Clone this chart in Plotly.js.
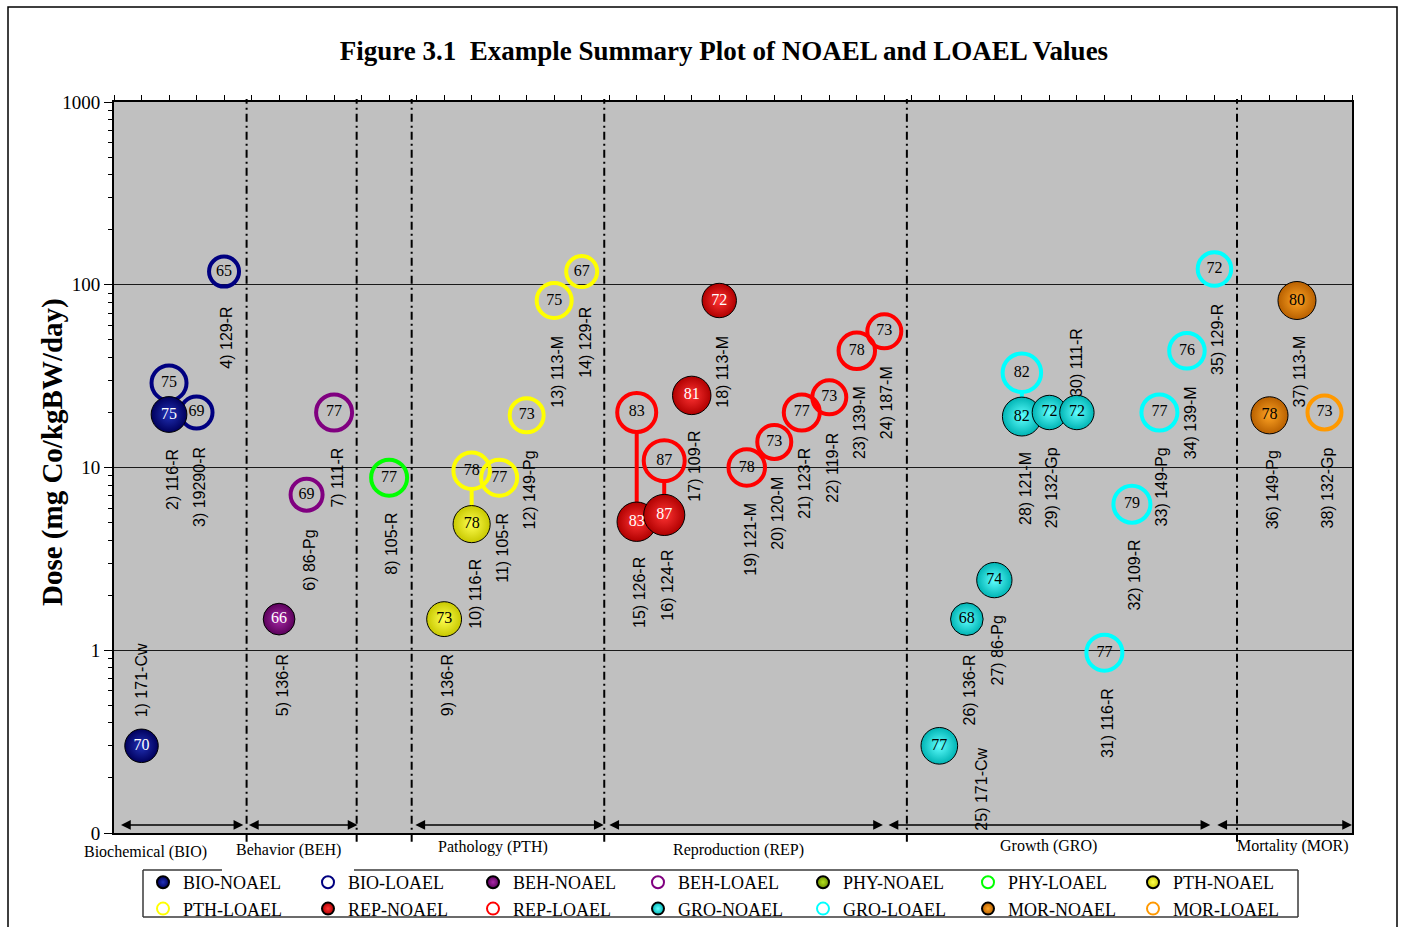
<!DOCTYPE html>
<html><head><meta charset="utf-8">
<script src="https://cdn.plot.ly/plotly-3.0.1.min.js"></script>
<style>body{margin:0;background:#fff}#chart{width:1403px;height:927px}</style>
</head><body><div id="chart"></div>
<script>
// ---------- data ----------
const studyLabels = ["171-Cw","116-R","19290-R","129-R","136-R","86-Pg","111-R","105-R","136-R","116-R","105-R","149-Pg","113-M","129-R","126-R","124-R","109-R","113-M","121-M","120-M","123-R","119-R","139-M","187-M","171-Cw","136-R","86-Pg","121-M","132-Gp","111-R","116-R","109-R","149-Pg","139-M","129-R","149-Pg","113-M","132-Gp"];
const studyGroups = ["BIO","BIO","BIO","BIO","BEH","BEH","BEH","PHY","PTH","PTH","PTH","PTH","PTH","PTH","REP","REP","REP","REP","REP","REP","REP","REP","REP","REP","GRO","GRO","GRO","GRO","GRO","GRO","GRO","GRO","GRO","GRO","GRO","MOR","MOR","MOR"];
const noaelDose  = [0.3,19.5,null,null,1.48,null,null,null,1.48,4.9,null,null,null,null,5.05,5.5,24.8,82,null,null,null,null,null,null,0.3,1.48,2.42,19,20,20,null,null,null,null,null,19.3,82,null];
const noaelScore = [70,75,null,null,66,null,null,null,73,78,null,null,null,null,83,87,81,72,null,null,null,null,null,null,77,68,74,82,72,72,null,null,null,null,null,78,80,null];
const loaelDose  = [null,29,20,118,null,7.1,20,8.8,null,9.6,8.8,19.3,82,118,20,10.9,null,null,10,13.8,20,24.2,43.5,55.6,null,null,null,33,null,null,0.97,6.3,20,43.5,122,null,null,20];
const loaelScore = [null,75,69,65,null,69,77,77,null,78,77,73,75,67,83,87,null,null,78,73,77,73,78,73,null,null,null,82,null,null,77,79,77,76,72,null,null,73];
const groupOrder  = ["BIO","BEH","PHY","PTH","REP","GRO","MOR"];
const groupTitles = ["Biochemical (BIO)","Behavior (BEH)","","Pathology (PTH)","Reproduction (REP)","Growth (GRO)","Mortality (MOR)"];
const yTickVals = [0.1,1,10,100,1000];
const yTickText = ["0","1","10","100","1000"];

// ---------- styles ----------
const sphere = { // edge, centre, text colour
  BIO:["#00005c","#2232b8","#ffffff"], BEH:["#5a005a","#a82aa8","#ffffff"], PHY:["#6b8f00","#b4e020","#000000"],
  PTH:["#c8c800","#ffff50","#000000"], REP:["#b00000","#ff3434","#ffffff"], GRO:["#00b4b4","#60ffff","#000000"],
  MOR:["#b86000","#ffa424","#000000"]
};
const ring = {BIO:"#000080",BEH:"#800080",PHY:"#00ff00",PTH:"#ffff00",REP:"#ff0000",GRO:"#00ffff",MOR:"#ff9900"};
const groupSpan = [[0.2,4.7],[4.85,8.85],null,[10.9,17.8],[17.95,27.95],[28.1,39.85],[40.05,45]];
const groupLabelX = [1.13,6.33,null,13.78,22.69,33.96,42.87];
const groupLabelDy = [-19,-17,null,-14,-17,-13,-13];
const labelPlacement = {1:{anchor:"bottom",dy:26,dx:0},25:{anchor:"top",dy:0,dx:42},30:{anchor:"bottom",dy:14,dx:0}};

const serif = "Liberation Serif, Times New Roman, serif";
const sans = "Liberation Sans, Arial, sans-serif";
const W = 1403, H = 927;
const M = {l:114,r:51,t:102,b:94};
const plotW = W - M.l - M.r, plotH = H - M.t - M.b;
const pxPerDecade = plotH / 4;
const px2paperX = px => (px - M.l) / plotW;
const px2paperY = py => (H - M.b - py) / plotH;
const noaelSize = v => 0.45*v + 2;
const loaelSize = v => 0.5*v - 2.5;

const xpos = studyLabels.map((_, i) => i + 1 + groupOrder.indexOf(studyGroups[i]));

const traces = [];
// connector lines NOAEL-LOAEL (stop at the inner edge of the LOAEL ring)
groupOrder.forEach(g => {
  const lx = [], ly = [];
  studyGroups.forEach((sg, i) => {
    if (sg === g && noaelDose[i] != null && loaelDose[i] != null) {
      const trim = (loaelSize(loaelScore[i]) / 2 - 2) / pxPerDecade;
      lx.push(xpos[i], xpos[i], null);
      ly.push(noaelDose[i], loaelDose[i] / Math.pow(10, trim), null);
    }
  });
  if (lx.length) traces.push({type:"scatter",mode:"lines",x:lx,y:ly,showlegend:false,hoverinfo:"skip",
    line:{color:ring[g],width:4}});
});
// LOAEL then NOAEL traces
["L","N"].forEach(kind => {
  groupOrder.forEach((g, gi) => {
    const dose = kind === "N" ? noaelDose : loaelDose;
    const score = kind === "N" ? noaelScore : loaelScore;
    const x = [], y = [], t = [], s = [];
    studyGroups.forEach((sg, i) => {
      if (sg === g && dose[i] != null) { x.push(xpos[i]); y.push(dose[i]); t.push(String(score[i])); s.push(score[i]); }
    });
    if (!x.length) { x.push(null); y.push(null); t.push(""); s.push(70); }
    const tr = {type:"scatter",mode:"markers+text",x,y,text:t,textposition:"middle center",
      name:g + (kind === "N" ? "-NOAEL" : "-LOAEL"), legendrank: gi*2 + (kind === "N" ? 1 : 2),
      hoverinfo:"skip", cliponaxis:false};
    if (kind === "N") {
      tr.marker = {symbol:"circle",size:s.map(noaelSize),color:sphere[g][0],opacity:1,
        gradient:{type:"radial",color:sphere[g][1]},line:{color:"#000000",width:1}};
      tr.textfont = {family:serif,size:16,color:sphere[g][2]};
    } else {
      tr.marker = {symbol:"circle",size:s.map(loaelSize),color:"rgba(0,0,0,0)",opacity:1,
        line:{color:ring[g],width:4}};
      tr.textfont = {family:serif,size:16,color:"#000000"};
    }
    traces.push(tr);
  });
});

// ---------- annotations & shapes ----------
const annotations = [];
const shapes = [];
studyLabels.forEach((lab, i) => {
  const lows = [noaelDose[i], loaelDose[i]].filter(v => v != null);
  const low = Math.min(...lows);
  const p = labelPlacement[i+1] || {anchor:"top",dy:-33,dx:3};
  annotations.push({x:xpos[i],y:Math.log10(low),xref:"x",yref:"y",text:(i+1) + ") " + lab,
    textangle:-90,showarrow:false,xanchor:"center",yanchor:p.anchor,yshift:p.dy,xshift:p.dx,
    font:{family:sans,size:16,color:"#000000"}});
});
groupOrder.forEach((g, gi) => {
  if (gi > 0) {
    const firstIdx = studyGroups.indexOf(g);
    const sep = xpos[firstIdx] - 1 - 0.18;
    shapes.push({type:"line",xref:"x",yref:"paper",x0:sep,x1:sep,y0:-0.012,y1:1.004,
      line:{color:"#000000",width:2,dash:"8px,4px,2px,4px"}});
  }
  if (groupSpan[gi]) {
    annotations.push({x:groupSpan[gi][1],y:0.011,xref:"x",yref:"paper",ax:groupSpan[gi][0],ay:0,
      axref:"x",ayref:"pixel",text:"",showarrow:true,arrowside:"end+start",arrowhead:2,
      arrowsize:1.3,arrowwidth:1.5,arrowcolor:"#000000"});
    annotations.push({x:groupLabelX[gi],y:0,xref:"x",yref:"paper",yanchor:"middle",yshift:groupLabelDy[gi],
      text:groupTitles[gi],showarrow:false,font:{family:serif,size:16,color:"#000000"}});
  }
});
// y-axis title
annotations.push({x:px2paperX(52),y:px2paperY(452),xref:"paper",yref:"paper",textangle:-90,showarrow:false,
  xanchor:"center",yanchor:"middle",text:"Dose (mg Co/kgBW/day)",
  font:{family:serif,size:29,weight:"bold",color:"#000000"}});
// outer frame
shapes.push({type:"rect",xref:"paper",yref:"paper",x0:px2paperX(8),x1:px2paperX(1397),y0:px2paperY(936),y1:px2paperY(7),
  line:{color:"#000000",width:1.5},fillcolor:"rgba(0,0,0,0)",layer:"below"});
// legend frame (top edge interrupted behind the "Behavior (BEH)" caption)
const lb = {x0:143,x1:1298,y0:870,y1:917,gap0:222,gap1:354};
[[lb.x0,lb.y0,lb.gap0,lb.y0],[lb.gap1,lb.y0,lb.x1,lb.y0],[lb.x1,lb.y0,lb.x1,lb.y1],
 [lb.x1,lb.y1,lb.x0,lb.y1],[lb.x0,lb.y1,lb.x0,lb.y0]].forEach(s => {
  shapes.push({type:"line",xref:"paper",yref:"paper",x0:px2paperX(s[0]),y0:px2paperY(s[1]),
    x1:px2paperX(s[2]),y1:px2paperY(s[3]),line:{color:"#3a3a3a",width:1.5}});
});

const minorVals = [];
for (let e = -1; e < 3; e++) for (let k = 2; k <= 9; k++) minorVals.push(k * Math.pow(10, e));

const layout = {
  width:W, height:H,
  margin:Object.assign({autoexpand:false}, M),
  paper_bgcolor:"#ffffff", plot_bgcolor:"#c0c0c0",
  hovermode:false,
  title:{text:"Figure 3.1\u00a0 Example Summary Plot of NOAEL and LOAEL Values",
    font:{family:serif,size:27,weight:"bold",color:"#000000"},xref:"container",x:0.516,xanchor:"center",
    yref:"container",y:0.946,yanchor:"middle"},
  xaxis:{range:[0,45],side:"top",tickmode:"linear",tick0:0,dtick:1,ticks:"outside",ticklen:5,
    tickcolor:"#000000",showticklabels:false,showgrid:false,zeroline:false,showline:true,
    linecolor:"#000000",linewidth:2,mirror:true},
  yaxis:{type:"log",range:[-1,3],tickmode:"array",tickvals:yTickVals,ticktext:yTickText,
    ticks:"outside",ticklen:8,tickcolor:"#000000",showgrid:true,gridcolor:"#1a1a1a",gridwidth:1,
    tickfont:{family:serif,size:19,color:"#000000"},showline:true,linecolor:"#000000",linewidth:2,mirror:true,
    minor:{tickmode:"array",tickvals:minorVals,ticks:"outside",ticklen:4,tickcolor:"#000000",showgrid:false}},
  showlegend:true,
  legend:{orientation:"h",x:px2paperX(143),xanchor:"left",y:px2paperY(864),yanchor:"top",
    entrywidth:120,entrywidthmode:"pixels",itemsizing:"constant",traceorder:"normal",
    font:{family:serif,size:18,color:"#000000"},bgcolor:"rgba(0,0,0,0)",borderwidth:0},
  annotations, shapes
};
Plotly.newPlot("chart", traces, layout, {displayModeBar:false, staticPlot:true});
</script></body></html>
